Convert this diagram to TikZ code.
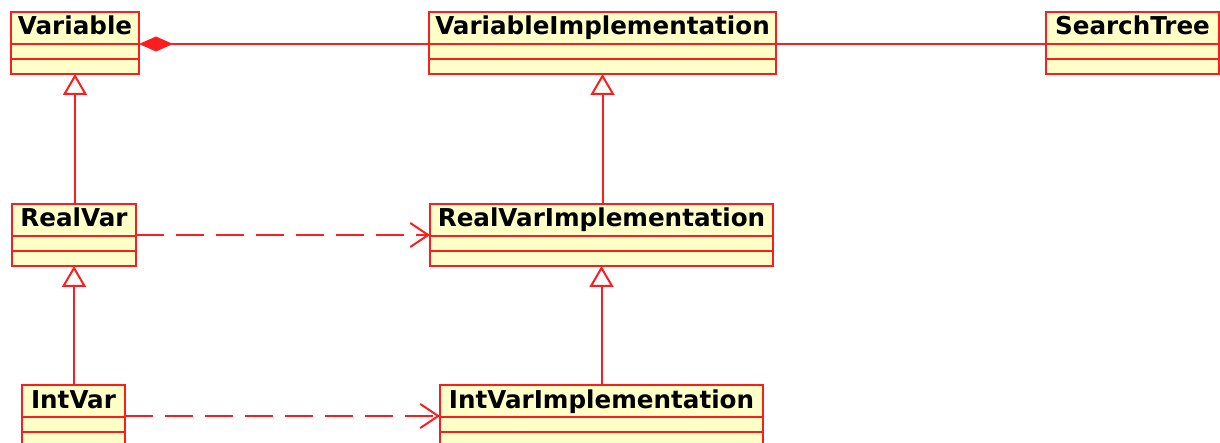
\documentclass[tikz,border=0pt]{standalone}
\usepackage{fontspec}
\setmainfont{DejaVu Sans}
\usetikzlibrary{arrows.meta,calc}
\definecolor{umlred}{RGB}{250,30,30}
\definecolor{umlfill}{RGB}{255,255,200}
\newcommand\umlclass[5]{% name, left, top, width, text
  \node[classbox, minimum width=#4pt] (#1) at (#2,#3) {};
  \node[title, anchor=base] (#1-t) at ($(#1.north)+(0,23)$) {#5};
  \draw[sep] ($(#1.north west)+(0,32)$) -- ($(#1.north east)+(0,32)$);
  \draw[sep] ($(#1.north west)+(0,47)$) -- ($(#1.north east)+(0,47)$);
}
\begin{document}
\begin{tikzpicture}[x=1pt,y=-1pt,
  classbox/.style={draw=umlred, fill=umlfill, line width=2pt, rectangle, inner sep=0pt, outer sep=0pt, minimum height=62pt, anchor=north west},
  title/.style={font=\fontsize{24.6}{28}\selectfont\bfseries, text=black, inner sep=0pt},
  sep/.style={draw=umlred, line width=2pt},
  conn/.style={draw=umlred, line width=2pt},
  gen/.style={conn, -{Triangle[open, length=21pt, width=24pt]}},
  dep/.style={conn, dash pattern=on 28pt off 12pt, -{Straight Barb[length=18pt, width=24pt]}},
  comp/.style={conn, {Diamond[length=34pt, width=15pt, fill=umlred]}-}
]
\useasboundingbox (0,0) rectangle (1220,443);
\umlclass{var}{11}{12}{128}{Variable}
\umlclass{vi}{429}{12}{347}{VariableImplementation}
\umlclass{st}{1046}{12}{173}{SearchTree}
\umlclass{rv}{12}{204}{124}{RealVar}
\umlclass{rvi}{430}{204}{343}{RealVarImplementation}
\umlclass{iv}{22}{385}{103}{IntVar}
\umlclass{ivi}{440}{385}{323}{IntVarImplementation}

\draw[comp] ($(var.north east)+(0,32)$) -- ($(vi.north west)+(0,32)$);
\draw[conn] ($(vi.north east)+(0,32)$) -- ($(st.north west)+(0,32)$);

\draw[gen] (var.south |- rv.north) -- (var.south);
\draw[gen] (rv.south |- iv.north) -- (rv.south);
\draw[gen] (vi.south |- rvi.north) -- (vi.south);
\draw[gen] (rvi.south |- ivi.north) -- (rvi.south);

\draw[dep] ($(rv.north east)+(0,31)$) -- ($(rvi.north west)+(0,31)$);
\draw[dep] ($(iv.north east)+(0,31)$) -- ($(ivi.north west)+(0,31)$);
\end{tikzpicture}
\end{document}
